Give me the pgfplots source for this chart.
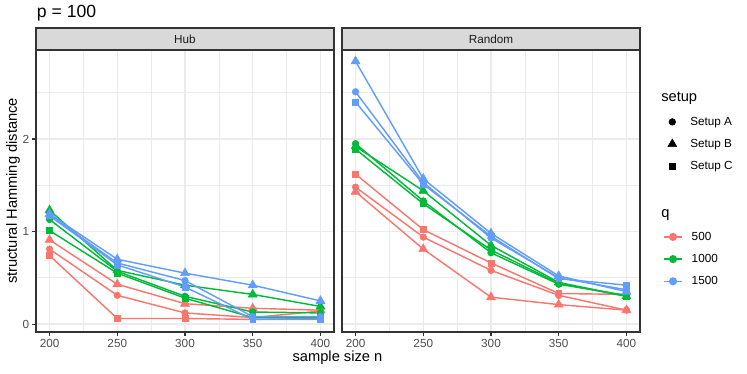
\documentclass[border=0pt]{standalone}
\usepackage{pgfplots}
\pgfplotsset{compat=1.18}
\usepackage{pgfplotstable}
\usepackage{fontspec}
\setmainfont{Liberation Sans}
\definecolor{c500}{HTML}{F8766D}
\definecolor{c1000}{HTML}{00BA38}
\definecolor{c1500}{HTML}{619CFF}
\definecolor{grey92}{HTML}{EBEBEB}
\definecolor{grey85}{HTML}{D9D9D9}
\definecolor{grey20}{HTML}{333333}
\definecolor{grey30}{HTML}{4D4D4D}
\definecolor{grey10}{HTML}{1A1A1A}

% columns: q=500 (r), 1000 (g), 1500 (b); setups A, B, C
\pgfplotstableread{
n   rA   rB   rC   gA   gB   gC   bA   bB   bC
200 0.81 0.91 0.74 1.13 1.23 1.01 1.18 1.19 1.17
250 0.31 0.43 0.06 0.57 0.58 0.55 0.66 0.70 0.64
300 0.12 0.22 0.06 0.30 0.42 0.28 0.47 0.55 0.40
350 0.07 0.17 0.05 0.13 0.32 0.07 0.08 0.42 0.05
400 0.14 0.15 0.06 0.12 0.19 0.07 0.08 0.25 0.05
}\hub
\pgfplotstableread{
n   rA   rB   rC   gA   gB   gC   bA   bB   bC
200 1.48 1.43 1.62 1.95 1.92 1.89 2.51 2.84 2.40
250 0.94 0.81 1.02 1.33 1.44 1.30 1.53 1.57 1.51
300 0.58 0.29 0.66 0.77 0.85 0.80 0.93 0.98 0.95
350 0.31 0.21 0.33 0.43 0.45 0.44 0.50 0.52 0.49
400 0.15 0.15 0.32 0.31 0.30 0.30 0.37 0.35 0.42
}\rnd

\pgfplotsset{
  ln/.style={line width=1.07pt, no markers},
  mA/.style={only marks, mark=*, mark size=2.49pt},
  mB/.style={only marks, mark=triangle*, mark size=3.87pt},
  mC/.style={only marks, mark=square*, mark size=2.21pt},
  key/.style={legend image code/.code={%
    \path[draw=none, fill=none] (0pt,-1pt) rectangle (13.5pt,1pt);
    \draw[mark repeat=2,mark phase=2,##1] plot coordinates {(0pt,0pt) (6.75pt,0pt) (13.5pt,0pt)};}},
  panel/.style={
    scale only axis, width=223.5pt, height=211.5pt, anchor=south west,
    xmin=190, xmax=410, ymin=-0.086, ymax=2.962,
    xtick={200,250,300,350,400}, ytick={0,1,2},
    minor xtick={225,275,325,375}, minor ytick={0.5,1.5,2.5},
    grid=both,
    major grid style={grey92, line width=1.07pt},
    minor grid style={grey92, line width=0.53pt},
    axis line style={grey20, line width=0.8pt},
    tick style={grey20, line width=0.8pt},
    tick align=outside, major tick length=2.75pt, minor tick length=0pt,
    xtick pos=bottom, ytick pos=left,
    ticklabel style={font=\fontsize{8.8}{10}\selectfont, text=grey30, inner sep=2.2pt},
    /pgf/number format/assume math mode=true,
    title style={at={(0.5,1)}, anchor=south, yshift=-6pt, fill=grey85, draw=grey20,
      line width=0.8pt, minimum width=223.5pt, minimum height=16.5pt,
      inner sep=0pt, outer sep=0pt, font=\fontsize{8.8}{10}\selectfont, text=grey10},
  },
  hidelegend/.style={hide axis, scale only axis, width=560.25pt, height=280.5pt,
    at={(0pt,0pt)}, anchor=south west, xmin=0, xmax=1, ymin=0, ymax=1,
    legend style={draw=none, fill=none, anchor=north west, inner xsep=0pt, inner ysep=0pt,
      row sep=5pt, column sep=4.75pt, font=\fontsize{8.8}{10}\selectfont},
    legend cell align=left},
}

\newcommand{\series}[1]{%
  \addplot[c500, ln] table[x=n, y=rA] {#1};
  \addplot[c500, ln] table[x=n, y=rB] {#1};
  \addplot[c500, ln] table[x=n, y=rC] {#1};
  \addplot[c1000, ln] table[x=n, y=gA] {#1};
  \addplot[c1000, ln] table[x=n, y=gB] {#1};
  \addplot[c1000, ln] table[x=n, y=gC] {#1};
  \addplot[c1500, ln] table[x=n, y=bA] {#1};
  \addplot[c1500, ln] table[x=n, y=bB] {#1};
  \addplot[c1500, ln] table[x=n, y=bC] {#1};
  \addplot[c500, mA] table[x=n, y=rA] {#1};
  \addplot[c500, mB] table[x=n, y=rB] {#1};
  \addplot[c500, mC] table[x=n, y=rC] {#1};
  \addplot[c1000, mA] table[x=n, y=gA] {#1};
  \addplot[c1000, mB] table[x=n, y=gB] {#1};
  \addplot[c1000, mC] table[x=n, y=gC] {#1};
  \addplot[c1500, mA] table[x=n, y=bA] {#1};
  \addplot[c1500, mB] table[x=n, y=bB] {#1};
  \addplot[c1500, mC] table[x=n, y=bC] {#1};
}

\begin{document}
\begin{tikzpicture}
\path[use as bounding box] (0pt,0pt) rectangle (560.25pt,280.5pt);

\begin{axis}[panel, at={(27pt,31.5pt)}, title={Hub}]
\series{\hub}
\end{axis}

\begin{axis}[panel, at={(256.5pt,31.5pt)}, title={Random},
  yticklabels={}, ytick style={draw=none}]
\series{\rnd}
\end{axis}

\node[anchor=base west, inner sep=0pt, font=\fontsize{13.2}{15}\selectfont] at (27.5pt,267.5pt) {p = 100};
\node[font=\fontsize{11}{13}\selectfont] at (253.1pt,12.5pt) {sample size n};
\node[rotate=90, font=\fontsize{11}{13}\selectfont] at (9.75pt,137.25pt) {structural Hamming distance};

\node[anchor=base west, inner sep=0pt, font=\fontsize{11}{13}\selectfont] at (495.75pt,204pt) {setup};
\node[anchor=base west, inner sep=0pt, font=\fontsize{11}{13}\selectfont] at (495.75pt,117pt) {q};

\begin{axis}[hidelegend, legend style={at={(0.8876,0.6955)}}]
\addlegendimage{black, mA, key}\addlegendentry{Setup A}
\addlegendimage{black, mB, key}\addlegendentry{Setup B}
\addlegendimage{black, mC, key}\addlegendentry{Setup C}
\end{axis}

\begin{axis}[hidelegend, legend style={at={(0.8876,0.3880)}}]
\addlegendimage{c500, line width=1.07pt, mark=*, mark size=2.49pt, key}\addlegendentry{500}
\addlegendimage{c1000, line width=1.07pt, mark=*, mark size=2.49pt, key}\addlegendentry{1000}
\addlegendimage{c1500, line width=1.07pt, mark=*, mark size=2.49pt, key}\addlegendentry{1500}
\end{axis}
\end{tikzpicture}
\end{document}
